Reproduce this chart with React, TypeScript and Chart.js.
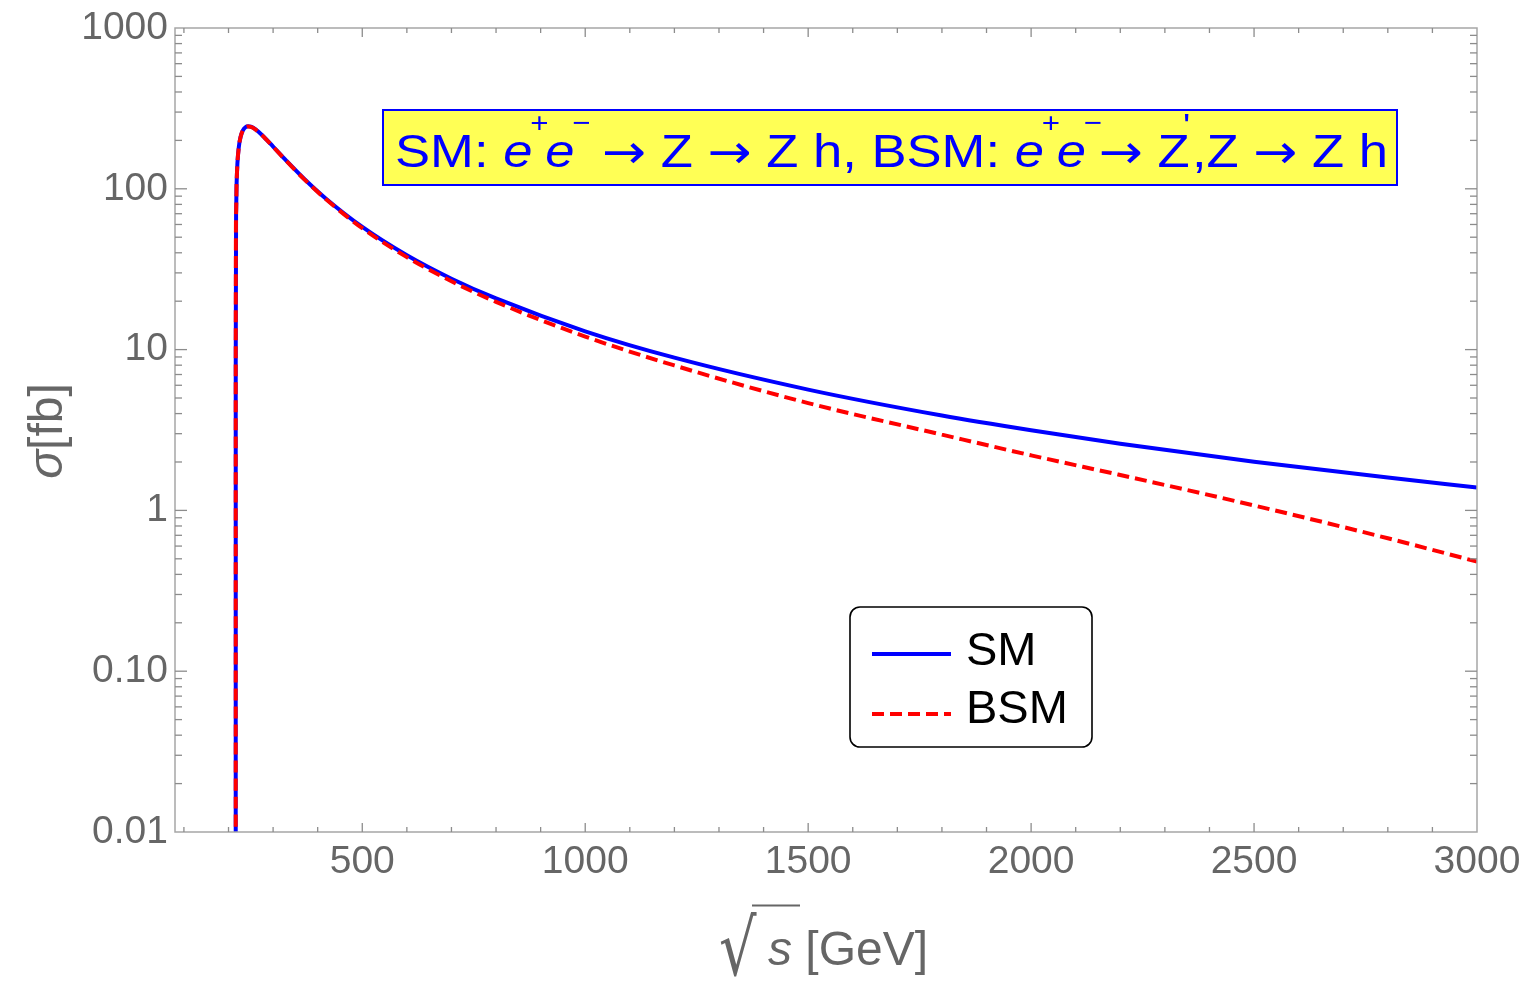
import React, { useEffect, useRef } from 'react';
import { Chart, registerables } from 'chart.js';

Chart.register(...registerables);

// sqrt(s) in GeV
const energies = [216.19, 216.2, 217, 218, 220, 223, 227, 232, 238, 244, 250, 260, 275, 300, 330, 370, 420, 500, 600, 700, 800, 1000, 1200, 1500, 1800, 2000, 2200, 2500, 2800, 3000];
// sigma in fb
const smSigma = [0.005, 8.0, 70.7, 103.5, 143.9, 180.7, 210.0, 230.3, 241.6, 244.7, 243.2, 234.7, 216.1, 183.1, 149.2, 115.1, 86.1, 57.9, 38.6, 27.6, 20.8, 13.0, 8.91, 5.64, 3.89, 3.15, 2.6, 2.01, 1.6, 1.39];
const bsmSigma = [0.005, 8.0, 70.6, 103.3, 143.7, 180.5, 209.7, 229.9, 241.2, 244.3, 242.7, 234.2, 215.6, 182.6, 148.6, 114.5, 85.4, 56.9, 37.6, 26.6, 19.8, 12.05, 7.97, 4.65, 2.96, 2.2, 1.66, 1.073, 0.671, 0.48];

const seriesNames = ['SM', 'BSM'];
const xTickValues = [500, 1000, 1500, 2000, 2500, 3000];
const yTickValues = [0.01, 0.1, 1, 10, 100, 1000];
const yTickLabels = ['0.01', '0.10', '1', '10', '100', '1000'];
const xTitle = ['√', 's', ' [GeV]'];
const yTitle = ['σ', '[fb]'];

type Piece = { t: string; italic?: boolean; sup?: boolean; arrow?: boolean; prime?: boolean };
const titlePieces: Piece[] = [
  { t: 'SM: ' },
  { t: 'e', italic: true },
  { t: '+', sup: true },
  { t: 'e', italic: true },
  { t: '−', sup: true },
  { t: ' ' },
  { t: '→', arrow: true },
  { t: ' Z ' },
  { t: '→', arrow: true },
  { t: ' Z h, BSM: ' },
  { t: 'e', italic: true },
  { t: '+', sup: true },
  { t: 'e', italic: true },
  { t: '−', sup: true },
  { t: '→', arrow: true },
  { t: ' Z' },
  { t: "'", prime: true },
  { t: ',Z ' },
  { t: '→', arrow: true },
  { t: ' Z h' },
];

const FONT = "'Liberation Sans', Arial, sans-serif";
const GRAY = '#666666';

const decorPlugin = {
  id: 'decor',
  afterDatasetsDraw(chart: any) {
    const { ctx, chartArea: a, scales } = chart;
    const xs = scales.x;
    const ys = scales.y;
    ctx.save();
    ctx.strokeStyle = '#a6a6a6';
    ctx.lineWidth = 1.5;
    ctx.strokeRect(a.left, a.top, a.right - a.left, a.bottom - a.top);
    ctx.strokeStyle = '#8c8c8c';
    ctx.lineWidth = 1.3;
    const seg = (x1: number, y1: number, x2: number, y2: number) => {
      ctx.beginPath();
      ctx.moveTo(x1, y1);
      ctx.lineTo(x2, y2);
      ctx.stroke();
    };
    for (let v = 100; v <= 3000; v += 100) {
      const px = xs.getPixelForValue(v);
      if (px < a.left + 1 || px > a.right - 1) continue;
      const len = v % 500 === 0 ? 9 : 5;
      seg(px, a.bottom, px, a.bottom - len);
      seg(px, a.top, px, a.top + len);
    }
    for (let d = -2; d <= 3; d++) {
      for (let m = 1; m <= 9; m++) {
        const v = m * Math.pow(10, d);
        if (v > 1000) break;
        const py = ys.getPixelForValue(v);
        if (py < a.top + 1 || py > a.bottom - 1) continue;
        const len = m === 1 ? 12 : 7;
        seg(a.left, py, a.left + len, py);
        seg(a.right, py, a.right - len, py);
      }
    }
    ctx.restore();
  },
  afterDraw(chart: any) {
    const { ctx } = chart;
    ctx.save();
    // ---- title box ----
    const bx = 383, by = 110, bw = 1014, bh = 75;
    ctx.fillStyle = '#ffff55';
    ctx.fillRect(bx, by, bw, bh);
    ctx.strokeStyle = '#0000ff';
    ctx.lineWidth = 2;
    ctx.strokeRect(bx, by, bw, bh);
    const main = 47, sup = 28;
    const fontFor = (p: Piece) =>
      p.arrow
        ? `${main}px 'DejaVu Sans', sans-serif`
        : p.prime
        ? `34px ${FONT}`
        : `${p.italic ? 'italic ' : ''}${p.sup ? sup : main}px ${FONT}`;
    let total = 0;
    const widths = titlePieces.map((p) => {
      ctx.font = fontFor(p);
      const w = ctx.measureText(p.t).width * (p.sup ? 0.7 : p.prime ? 0.3 : 1);
      total += w;
      return w;
    });
    const tx0 = 395, tw = 993;
    const sx = tw / total;
    ctx.save();
    ctx.translate(tx0, 0);
    ctx.scale(sx, 1);
    ctx.fillStyle = '#0000ff';
    ctx.textBaseline = 'alphabetic';
    ctx.textAlign = 'left';
    let cx = 0;
    titlePieces.forEach((p, i) => {
      ctx.font = fontFor(p);
      const yy = p.prime ? 137 : p.sup ? 132 : p.arrow ? 168 : 167;
      ctx.fillText(p.t, cx - (p.sup ? 2 : p.prime ? 6 : 0), yy);
      cx += widths[i];
    });
    ctx.restore();

    // ---- legend ----
    const lx = 850, ly = 607, lw = 242, lh = 140, r = 10;
    ctx.beginPath();
    ctx.moveTo(lx + r, ly);
    ctx.arcTo(lx + lw, ly, lx + lw, ly + lh, r);
    ctx.arcTo(lx + lw, ly + lh, lx, ly + lh, r);
    ctx.arcTo(lx, ly + lh, lx, ly, r);
    ctx.arcTo(lx, ly, lx + lw, ly, r);
    ctx.closePath();
    ctx.fillStyle = '#ffffff';
    ctx.fill();
    ctx.strokeStyle = '#000000';
    ctx.lineWidth = 1.6;
    ctx.stroke();
    const dsets = chart.data.datasets;
    const rows = [654, 714];
    const bases = [665, 723];
    rows.forEach((yy, i) => {
      const ds = dsets[i];
      ctx.strokeStyle = ds.borderColor;
      ctx.lineWidth = 4;
      ctx.setLineDash(ds.borderDash || []);
      ctx.beginPath();
      ctx.moveTo(872, yy);
      ctx.lineTo(951, yy);
      ctx.stroke();
      ctx.setLineDash([]);
      ctx.fillStyle = '#000000';
      ctx.font = `47px ${FONT}`;
      ctx.textAlign = 'left';
      ctx.textBaseline = 'alphabetic';
      ctx.fillText(ds.label, 966, bases[i]);
    });

    // ---- x title ----
    ctx.fillStyle = GRAY;
    ctx.strokeStyle = GRAY;
    ctx.save();
    ctx.translate(719, 975);
    ctx.scale(0.95, 1.25);
    ctx.font = `62px 'DejaVu Sans', sans-serif`;
    ctx.textAlign = 'left';
    ctx.textBaseline = 'alphabetic';
    ctx.fillText(xTitle[0], 0, 0);
    ctx.restore();
    ctx.lineWidth = 2;
    ctx.beginPath();
    ctx.moveTo(752, 905.5);
    ctx.lineTo(800, 905.5);
    ctx.stroke();
    ctx.font = `italic 48px ${FONT}`;
    ctx.textAlign = 'left';
    ctx.fillText(xTitle[1], 768, 965);
    ctx.font = `48px ${FONT}`;
    ctx.fillText(xTitle[2], 792, 965);

    // ---- y title ----
    ctx.save();
    ctx.translate(62, 431);
    ctx.rotate(-Math.PI / 2);
    ctx.font = `italic 48px ${FONT}`;
    const w1 = ctx.measureText(yTitle[0]).width;
    ctx.font = `48px ${FONT}`;
    const w2 = ctx.measureText(yTitle[1]).width;
    const start = -(w1 + w2) / 2;
    ctx.font = `italic 48px ${FONT}`;
    ctx.textAlign = 'left';
    ctx.fillText(yTitle[0], start, 0);
    ctx.font = `48px ${FONT}`;
    ctx.fillText(yTitle[1], start + w1, 0);
    ctx.restore();

    ctx.restore();
  },
};

export default function App() {
  const ref = useRef<HTMLCanvasElement | null>(null);
  useEffect(() => {
    document.body.style.margin = '0';
    const canvas = ref.current;
    if (!canvas) return;
    const chart = new Chart(canvas, {
      type: 'line',
      data: {
        datasets: [
          {
            label: seriesNames[0],
            data: energies.map((e, i) => ({ x: e, y: smSigma[i] })),
            borderColor: '#0000ff',
            borderWidth: 4,
            pointRadius: 0,
            cubicInterpolationMode: 'monotone',
            fill: false,
            order: 2,
            clip: 0,
          },
          {
            label: seriesNames[1],
            data: energies.map((e, i) => ({ x: e, y: bsmSigma[i] })),
            borderColor: '#ff0000',
            borderWidth: 4,
            borderDash: [12, 6],
            pointRadius: 0,
            cubicInterpolationMode: 'monotone',
            fill: false,
            order: 1,
            clip: 0,
          },
        ],
      },
      options: {
        responsive: false,
        animation: false,
        devicePixelRatio: 1,
        layout: { padding: { top: 28, right: 49, left: 0, bottom: 0 } },
        plugins: { legend: { display: false }, tooltip: { enabled: false }, title: { display: false } },
        scales: {
          x: {
            type: 'linear',
            min: 80,
            max: 3000,
            grid: { display: false, drawTicks: false },
            border: { display: false },
            afterBuildTicks: (s: any) => {
              s.ticks = xTickValues.map((v) => ({ value: v }));
            },
            afterFit: (s: any) => {
              s.height = 151;
              s.paddingLeft = 0;
              s.paddingRight = 0;
            },
            ticks: {
              autoSkip: false,
              maxRotation: 0,
              padding: 7,
              color: GRAY,
              font: { family: FONT, size: 39 },
              callback: (v: any) => String(v),
            },
          },
          y: {
            type: 'logarithmic',
            min: 0.01,
            max: 1000,
            grid: { display: false, drawTicks: false },
            border: { display: false },
            afterBuildTicks: (s: any) => {
              s.ticks = yTickValues.map((v) => ({ value: v }));
            },
            afterFit: (s: any) => {
              s.width = 175;
              s.paddingTop = 0;
              s.paddingBottom = 0;
            },
            ticks: {
              autoSkip: false,
              padding: 7,
              color: GRAY,
              font: { family: FONT, size: 39 },
              callback: (v: any) => {
                const idx = yTickValues.findIndex((t) => Math.abs(t - Number(v)) / t < 1e-6);
                return idx >= 0 ? yTickLabels[idx] : '';
              },
            },
          },
        },
      },
      plugins: [decorPlugin],
    } as any);
    return () => chart.destroy();
  }, []);
  return (
    <div style={{ width: 1526, height: 983 }}>
      <canvas ref={ref} width={1526} height={983} style={{ display: 'block' }} />
    </div>
  );
}
